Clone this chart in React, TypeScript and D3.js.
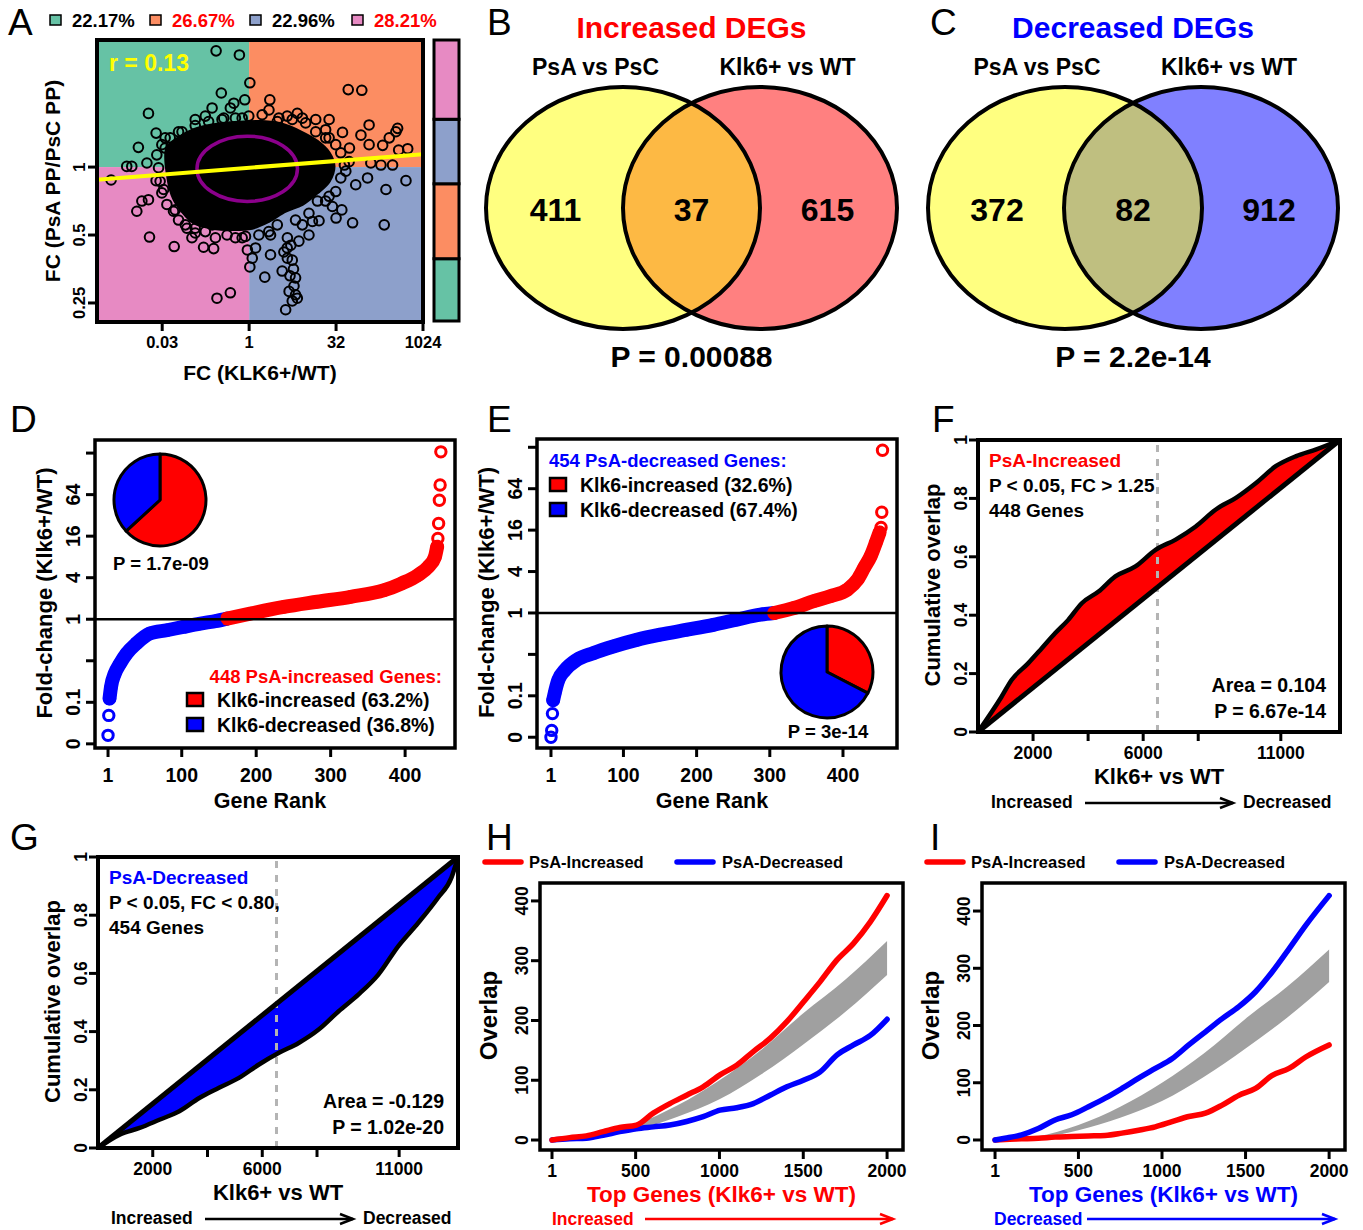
import { useEffect, useRef } from 'react';
import * as d3 from 'd3';

const W = 1363;
const H = 1230;
const FONT = '"Liberation Sans", Arial, Helvetica, sans-serif';
const RED = '#ff0000';
const BLUE = '#0000ff';

// ---------- Panel A: quadrant shares and scatter (log2 fold-changes)
const quadLabels = ['22.17%', '26.67%', '22.96%', '28.21%'];
const quadShares = [22.17, 26.67, 22.96, 28.21];
const quadColors = ['#66c2a5', '#fc8d62', '#8da0cb', '#e78ac3'];
const quadTextColors = ['#000000', RED, '#000000', RED];
const corrLabel = 'r = 0.13';
const aLog2X = [
  -1.9, -0.56, 0.04, -1.6, -5.79, -0.25, -0.88, -1.08, -2.13, 5.7, 6.48, 1.19, 1.14, -3.1, -1.46, -6.37, -5.35, -7.94,
  -7.04, -6.75, -5.88, 2.77, 3.06, 3.83, 4.6, 4.4, 5.37, 6.43, 8.54, 8.06, 6.9, 7.68, 9.12, 8.6, 7.0, 7.58, 8.25, 9.02,
  7.87, 6.81, 5.33, 5.95, 7.77, 3.93, 4.79, 3.64, 4.02, -6.46, -6.17, -5.79, -5.73, -4.31, -2.62, -2.04, -1.85, -1.08,
  2.1, 0.9, 0.04, 0.18, 1.23, 0.37, 2.67, 2.58, 2.67, 2.2, 3.44, 2.86, 2.19, 2.48, 1.9, 2.2, 2.3, 2.77, 2.48, -0.4, -0.1,
  -3.29, -3.58, -4.25, -5.35, -5.02, -4.83, -4.06, 1.62, 2.19, -0.4, -2.52, 5.77, 5.48, 6.13, 4.6, 5.0, 3.06, 1.23, 4.6,
  3.64, -3.1, -2.13, -4.83, 6.9, 8.44, 2.35, 2.55, 2.4, 2.0,
  // genes along the rim of the dense cloud
  -5.02, -5.31, -5.21, -5.12, -4.92, -4.73, -4.35, -4.06, -3.67, -3.1, -2.52, -1.94, -1.27, -0.79, -0.21, 0.56, 1.13,
  1.62, 2.67, 3.44, 4.4, 4.98, 5.27, 5.56, 5.75, 5.27, 4.98, 4.4, 3.83, 3.25, 2.48, 1.71, 0.75, -0.02, -0.79, -1.56,
  -2.33, -3.1, -3.86, -4.54
];
const aLog2Y = [
  1.71, 1.65, 1.24, 1.09, 0.79, 0.99, 0.94, 0.87, 0.87, 1.14, 1.13, 0.99, 0.84, 0.7, 0.72, 0.29, 0.5, -0.19,
  0.01, 0.01, 0.06, 0.79, 0.72, 0.7, 0.7, 0.55, 0.51, 0.47, 0.57, 0.43, 0.33, 0.32, 0.27, 0.25, 0.06, 0.03, 0.03, -0.2,
  -0.33, -0.16, -0.63, -0.82, -0.85, -0.5, -0.58, -0.8, -0.79, -0.65, -0.5, -0.48, -1.03, -1.17, -1.18, -1.2, -1.93, -1.85,
  -2.1, -1.62, -1.47, -1.34, -1.29, -1.19, -1.63, -1.75, -1.88, -1.34, -1.0, -1.09, -1.19, -1.37, -1.53, -1.04, -1.83,
  -1.93, -1.97, -1.04, -1.22, -1.04, -0.9, -0.63, -0.2, -0.38, 0.43, 0.52, 0.67, 0.75, 0.72, 0.75, 0.28, 0.03, -0.26,
  -0.43, -0.75, -0.85, -1.0, 0.43, 0.33, -0.9, -0.85, 0.28, 0.62, 0.52, -1.6, -1.5, -1.15, -1.25,
  0.33, 0.18, -0.01, -0.21, -0.33, -0.55, -0.65, -0.78, -0.85, -0.97, -0.95, -1.04, -1.0, -1.04, -1.02, -1.0, -0.95,
  -0.85, -0.78, -0.68, -0.5, -0.36, -0.16, -0.06, 0.08, 0.21, 0.33, 0.43, 0.52, 0.65, 0.7, 0.72, 0.77, 0.75, 0.72, 0.7,
  0.67, 0.61, 0.52, 0.43
];
// outline of the saturated core of the cloud
const coreLog2X = [
  -4.73, -4.06, -3.19, -2.13, -0.6, 0.75, 1.9, 2.96, 3.92, 4.6, 4.88, 4.6, 3.92, 3.06, 2.1, 1.13, 0.18, -0.98, -2.13,
  -3.19, -3.86, -4.35, -4.67
];
const coreLog2Y = [
  0.28, 0.43, 0.55, 0.62, 0.66, 0.67, 0.63, 0.52, 0.38, 0.21, 0.01, -0.21, -0.38, -0.55, -0.65, -0.8, -0.9, -0.92, -0.9,
  -0.82, -0.65, -0.46, -0.16
];
const contourCenter = [-0.11, -0.025];
const contourRadius = [2.89, 0.48];
const fitIntercept = -0.01;
const fitSlope = 0.02;
const aXTicks = [-5, 0, 5, 10];
const aXTickLabels = ['0.03', '1', '32', '1024'];
const aYTicks = [0, -1, -2];
const aYTickLabels = ['1', '0.5', '0.25'];

// ---------- Panels B, C: Venn counts [left only, both, right only]
const vennSets = ['PsA vs PsC', 'Klk6+ vs WT'];
const upCounts = [411, 37, 615];
const downCounts = [372, 82, 912];

// ---------- Panels D, E: ranked fold-change (log2)
const rankYTicks = [8, 6, 4, 2, 0, -2, -4, -6];
const rankYTickLabels = ['', '64', '16', '4', '1', '', '0.1', '0'];
const rankXTicks = [1, 100, 200, 300, 400];
const dBandRank = [3, 5, 10, 17, 26, 39, 57, 80, 102, 125, 147, 161, 192, 237, 282, 327, 372, 395, 417, 431, 440, 443];
const dBandLog2 = [
  -3.82, -3.26, -2.62, -2.14, -1.65, -1.17, -0.69, -0.53, -0.37, -0.21, -0.08, 0.03, 0.27, 0.59, 0.84, 1.08, 1.4, 1.72,
  2.12, 2.52, 3.0, 3.49
];
const dTailRank = [1, 2, 444, 445, 446, 447, 448];
const dTailLog2 = [-5.59, -4.63, 3.89, 4.61, 5.73, 6.46, 8.06];
const dPie = [63.2, 36.8];
const eBandRank = [4, 6, 11, 20, 36, 59, 86, 118, 150, 187, 223, 255, 287, 306, 333, 360, 383, 406, 420, 429, 438, 445, 450];
const eBandLog2 = [
  -4.21, -3.89, -3.24, -2.76, -2.27, -1.94, -1.62, -1.3, -1.05, -0.81, -0.57, -0.32, -0.08, 0.0, 0.24, 0.57, 0.81, 1.13,
  1.62, 2.19, 2.76, 3.4, 3.89
];
const eTailRank = [1, 2, 3, 452, 453, 454];
const eTailLog2 = [-6.0, -5.67, -4.86, 4.13, 4.86, 7.86];
const ePie = [32.6, 67.4];

// ---------- Panels F, G: cumulative overlap along Klk6+ vs WT ranking
const totalGenes = 13150;
const splitRank = 6520;
const cumXTicks = [2000, 4000, 6000, 8000, 11000];
const cumXTickLabels = ['2000', '', '6000', '', '11000'];
const cumYTicks = [0, 0.2, 0.4, 0.6, 0.8, 1];
const fRank = [0, 850, 1220, 1820, 2310, 2800, 3280, 3770, 4380, 4990, 5720, 6450, 7180, 7910, 8640, 9370, 10100, 10830, 11560, 12290, 13150];
const fOverlap = [0, 0.12, 0.178, 0.235, 0.286, 0.338, 0.384, 0.441, 0.481, 0.533, 0.567, 0.624, 0.659, 0.704, 0.762, 0.802, 0.853, 0.911, 0.945, 0.968, 1.0];
const gRank = [0, 790, 1520, 2240, 2970, 3700, 4420, 5150, 5880, 6610, 7330, 8060, 8790, 9520, 10240, 10970, 11700, 12420, 12910, 13150];
const gOverlap = [0, 0.046, 0.069, 0.097, 0.126, 0.172, 0.207, 0.241, 0.287, 0.327, 0.361, 0.407, 0.47, 0.528, 0.596, 0.694, 0.774, 0.86, 0.929, 1.0];

// ---------- Panels H, I: overlap among top genes
const overlapXTicks = [1, 500, 1000, 1500, 2000];
const overlapYTicks = [0, 100, 200, 300, 400];
const hTop = [1, 106, 206, 306, 405, 505, 605, 704, 804, 903, 1003, 1103, 1202, 1302, 1402, 1501, 1601, 1700, 1800, 1900, 2000];
const hIncreased = [0, 4, 7, 14, 21, 25, 45, 61, 75, 89, 109, 125, 148, 170, 198, 231, 265, 301, 329, 365, 409];
const hDecreased = [0, 2, 3, 8, 14, 19, 22, 25, 31, 39, 50, 54, 61, 75, 89, 100, 114, 142, 159, 175, 202];
const iTop = [1, 60, 160, 260, 360, 460, 560, 660, 760, 860, 960, 1060, 1160, 1260, 1360, 1460, 1560, 1660, 1760, 1860, 2000];
const iIncreased = [0, 1, 2, 3, 5, 6, 7, 8, 12, 17, 23, 32, 41, 47, 61, 78, 90, 113, 125, 145, 166];
const iDecreased = [0, 3, 9, 20, 35, 44, 58, 73, 90, 108, 125, 142, 166, 189, 212, 233, 259, 294, 334, 375, 427];
const nullTop = [1, 250, 500, 750, 1000, 1250, 1500, 1750, 2000];
const nullLow = [0, 3, 17, 39, 68, 110, 160, 214, 276];
const nullHigh = [0, 6, 26, 58, 100, 151, 212, 268, 333];

type Sel = d3.Selection<any, unknown, null, undefined>;

const txt = (
  g: Sel,
  x: number,
  y: number,
  s: string,
  size: number,
  opt: { anchor?: string; fill?: string; weight?: string; rotate?: boolean } = {}
) =>
  g
    .append('text')
    .attr('transform', `translate(${x},${y})${opt.rotate ? ' rotate(-90)' : ''}`)
    .attr('text-anchor', opt.anchor || 'start')
    .attr('font-size', size)
    .attr('font-weight', opt.weight || 'bold')
    .attr('fill', opt.fill || '#000')
    .text(s);

const frame = (g: Sel, x0: number, y0: number, x1: number, y1: number, sw: number) =>
  g
    .append('rect')
    .attr('x', x0)
    .attr('y', y0)
    .attr('width', x1 - x0)
    .attr('height', y1 - y0)
    .attr('fill', 'none')
    .attr('stroke', '#000')
    .attr('stroke-width', sw);

const bottomTicks = (g: Sel, scale: any, values: number[], labels: string[], yTop: number, labelY: number, size: number) => {
  values.forEach((v, i) => {
    const px = scale(v);
    g.append('line').attr('x1', px).attr('x2', px).attr('y1', yTop).attr('y2', yTop + 9).attr('stroke', '#000').attr('stroke-width', 3);
    if (labels[i]) txt(g, px, labelY, labels[i], size, { anchor: 'middle' });
  });
};

const leftTicks = (g: Sel, scale: any, values: number[], labels: string[], xRight: number, labelX: number, size: number) => {
  values.forEach((v, i) => {
    const py = scale(v);
    g.append('line').attr('x1', xRight - 9).attr('x2', xRight).attr('y1', py).attr('y2', py).attr('stroke', '#000').attr('stroke-width', 3);
    if (labels[i]) txt(g, labelX, py, labels[i], size, { anchor: 'middle', rotate: true });
  });
};

const arrow = (g: Sel, x1: number, x2: number, y: number, color: string) => {
  g.append('line').attr('x1', x1).attr('x2', x2).attr('y1', y).attr('y2', y).attr('stroke', color).attr('stroke-width', 2.5);
  g.append('path')
    .attr('d', `M${x2 - 13},${y - 5}L${x2},${y}L${x2 - 13},${y + 5}`)
    .attr('fill', 'none')
    .attr('stroke', color)
    .attr('stroke-width', 2.5);
};

function drawA(svg: Sel) {
  const g = svg.append('g');
  const x = d3.scaleLinear().domain([-8.75, 10]).range([97, 423]);
  const y = d3.scaleLinear().domain([-2.28, 1.87]).range([322, 40]);
  const [x0, x1] = x.domain();
  const [y0, y1] = y.domain();

  // Quadrant backgrounds: green TL, orange TR, blue BR, pink BL
  const quads = [
    [x0, 0, 0, y1],
    [0, x1, 0, y1],
    [0, x1, y0, 0],
    [x0, 0, y0, 0]
  ];
  quads.forEach((q, i) => {
    g.append('rect')
      .attr('x', x(q[0]))
      .attr('y', y(q[3]))
      .attr('width', x(q[1]) - x(q[0]))
      .attr('height', y(q[2]) - y(q[3]))
      .attr('fill', quadColors[i]);
  });

  g.append('clipPath').attr('id', 'clipA').append('rect').attr('x', 97).attr('y', 40).attr('width', 326).attr('height', 282);
  const pg = g.append('g').attr('clip-path', 'url(#clipA)');

  // Dense core of the cloud
  const core = d3
    .line<number>()
    .x((i) => x(coreLog2X[i]))
    .y((i) => y(coreLog2Y[i]))
    .curve(d3.curveCatmullRomClosed);
  pg.append('path')
    .attr('d', core(d3.range(coreLog2X.length)))
    .attr('fill', '#000')
    .attr('stroke', '#000')
    .attr('stroke-width', 3)
    .attr('stroke-linejoin', 'round');

  pg.selectAll('circle.pt')
    .data(d3.range(aLog2X.length))
    .join('circle')
    .attr('class', 'pt')
    .attr('cx', (i) => x(aLog2X[i]))
    .attr('cy', (i) => y(aLog2Y[i]))
    .attr('r', 4.8)
    .attr('fill', 'none')
    .attr('stroke', '#000')
    .attr('stroke-width', 2);

  // Density contour
  pg.append('ellipse')
    .attr('cx', x(contourCenter[0]))
    .attr('cy', y(contourCenter[1]))
    .attr('rx', x(contourCenter[0] + contourRadius[0]) - x(contourCenter[0]))
    .attr('ry', y(contourCenter[1]) - y(contourCenter[1] + contourRadius[1]))
    .attr('fill', 'none')
    .attr('stroke', '#8b008b')
    .attr('stroke-width', 3.5);

  // Regression line
  pg.append('line')
    .attr('x1', x(x0))
    .attr('y1', y(fitIntercept + fitSlope * x0))
    .attr('x2', x(x1))
    .attr('y2', y(fitIntercept + fitSlope * x1))
    .attr('stroke', '#ffff00')
    .attr('stroke-width', 4);

  txt(g, 109, 71, corrLabel, 23, { fill: '#ffff00' });
  frame(g, 97, 40, 423, 322, 4);

  bottomTicks(g, x, aXTicks, aXTickLabels, 322, 348, 16.5);
  leftTicks(g, y, aYTicks, aYTickLabels, 97, 85, 16.5);
  txt(g, 260, 380, 'FC (KLK6+/WT)', 21, { anchor: 'middle' });
  txt(g, 60, 181, 'FC (PsA PP/PsC PP)', 21, { anchor: 'middle', rotate: true });

  // Legend row
  const legX = [50, 150, 250, 352];
  quadLabels.forEach((l, i) => {
    g.append('rect')
      .attr('x', legX[i])
      .attr('y', 15)
      .attr('width', 11)
      .attr('height', 10)
      .attr('fill', quadColors[i])
      .attr('stroke', '#000')
      .attr('stroke-width', 1.5);
    txt(g, legX[i] + 22, 27, l, 18.5, { fill: quadTextColors[i] });
  });

  // Stacked share bar
  const s = d3.scaleLinear().domain([0, d3.sum(quadShares)]).range([321, 40]);
  let acc = 0;
  quadShares.forEach((v, i) => {
    g.append('rect')
      .attr('x', 434)
      .attr('y', s(acc + v))
      .attr('width', 25)
      .attr('height', s(acc) - s(acc + v))
      .attr('fill', quadColors[i])
      .attr('stroke', '#000')
      .attr('stroke-width', 3);
    acc += v;
  });
}

function drawVenn(
  svg: Sel,
  id: string,
  cxL: number,
  cxR: number,
  title: string,
  titleColor: string,
  counts: number[],
  rightColor: string,
  overlapColor: string,
  pText: string
) {
  const g = svg.append('g');
  const cy = 208;
  const rx = 137;
  const ry = 121;
  const mid = (cxL + cxR) / 2;
  g.append('clipPath').attr('id', id).append('ellipse').attr('cx', cxL).attr('cy', cy).attr('rx', rx).attr('ry', ry);
  g.append('ellipse').attr('cx', cxL).attr('cy', cy).attr('rx', rx).attr('ry', ry).attr('fill', '#ffff80');
  g.append('ellipse').attr('cx', cxR).attr('cy', cy).attr('rx', rx).attr('ry', ry).attr('fill', rightColor);
  g.append('ellipse')
    .attr('cx', cxR)
    .attr('cy', cy)
    .attr('rx', rx)
    .attr('ry', ry)
    .attr('fill', overlapColor)
    .attr('clip-path', `url(#${id})`);
  [cxL, cxR].forEach((cx) =>
    g.append('ellipse').attr('cx', cx).attr('cy', cy).attr('rx', rx).attr('ry', ry).attr('fill', 'none').attr('stroke', '#000').attr('stroke-width', 4)
  );
  txt(g, mid, 38, title, 30, { anchor: 'middle', fill: titleColor });
  txt(g, mid - 96, 75, vennSets[0], 23, { anchor: 'middle' });
  txt(g, mid + 96, 75, vennSets[1], 23, { anchor: 'middle' });
  const cx = [mid - 136, mid, mid + 136];
  counts.forEach((c, i) => txt(g, cx[i], 221, String(c), 32, { anchor: 'middle' }));
  txt(g, mid, 367, pText, 30, { anchor: 'middle' });
}

type RankCfg = {
  box: [number, number, number, number];
  xDomain: [number, number];
  yDomain: [number, number];
  bandRank: number[];
  bandLog2: number[];
  tailRank: number[];
  tailLog2: number[];
  pie: number[];
  pieC: [number, number];
  pLabel: string;
  pY: number;
  ylabelX: number;
  yTickX: number;
  legend: { title: string; color: string; anchor: string; tx: number; ty: number; sx: number; sy: number; lx: number };
};

function drawRank(svg: Sel, c: RankCfg) {
  const g = svg.append('g');
  const [bx0, by0, bx1, by1] = c.box;
  const x = d3.scaleLinear().domain(c.xDomain).range([bx0, bx1]);
  const y = d3.scaleLinear().domain(c.yDomain).range([by1, by0]);
  const col = (v: number) => (v < 0 ? BLUE : RED);

  const idx = d3.range(c.bandRank.length);
  const firstUp = idx.findIndex((i) => c.bandLog2[i] >= 0);
  const line = d3
    .line<number>()
    .x((i) => x(c.bandRank[i]))
    .y((i) => y(c.bandLog2[i]))
    .curve(d3.curveMonotoneX);
  g.append('path')
    .attr('d', line(idx.slice(0, firstUp + 1)))
    .attr('fill', 'none')
    .attr('stroke', BLUE)
    .attr('stroke-width', 14)
    .attr('stroke-linecap', 'round');
  g.append('path')
    .attr('d', line(idx.slice(firstUp)))
    .attr('fill', 'none')
    .attr('stroke', RED)
    .attr('stroke-width', 14)
    .attr('stroke-linecap', 'round');

  const pts = [
    ...idx.map((i) => [c.bandRank[i], c.bandLog2[i]]),
    ...c.tailRank.map((r, i) => [r, c.tailLog2[i]])
  ];
  g.selectAll('circle.r')
    .data(pts)
    .join('circle')
    .attr('class', 'r')
    .attr('cx', (d) => x(d[0]))
    .attr('cy', (d) => y(d[1]))
    .attr('r', 5.2)
    .attr('fill', 'none')
    .attr('stroke', (d) => col(d[1]))
    .attr('stroke-width', 3);

  g.append('line').attr('x1', bx0).attr('x2', bx1).attr('y1', y(0)).attr('y2', y(0)).attr('stroke', '#000').attr('stroke-width', 2.5);

  // Pie of increased / decreased share
  const arcs = d3.pie<number>().sort(null)(c.pie);
  const arc = d3.arc<d3.PieArcDatum<number>>().innerRadius(0).outerRadius(46);
  g.append('g')
    .attr('transform', `translate(${c.pieC[0]},${c.pieC[1]})`)
    .selectAll('path')
    .data(arcs)
    .join('path')
    .attr('d', arc)
    .attr('fill', (_, i) => (i === 0 ? RED : BLUE))
    .attr('stroke', '#000')
    .attr('stroke-width', 3)
    .attr('stroke-linejoin', 'round');
  txt(g, c.pieC[0] + 1, c.pY, c.pLabel, 18.5, { anchor: 'middle' });

  frame(g, bx0, by0, bx1, by1, 3.5);
  bottomTicks(g, x, rankXTicks, rankXTicks.map(String), by1, by1 + 34, 19.5);
  leftTicks(g, y, rankYTicks, rankYTickLabels, bx0, c.yTickX, 19.5);
  txt(g, (bx0 + bx1) / 2 - 5, by1 + 60, 'Gene Rank', 21.5, { anchor: 'middle' });
  txt(g, c.ylabelX, (by0 + by1) / 2 - 1, 'Fold-change (Klk6+/WT)', 22, { anchor: 'middle', rotate: true });

  const L = c.legend;
  txt(g, L.tx, L.ty, L.title, 18.5, { anchor: L.anchor, fill: L.color });
  const names = [`Klk6-increased (${c.pie[0]}%)`, `Klk6-decreased (${c.pie[1]}%)`];
  names.forEach((n, i) => {
    g.append('rect')
      .attr('x', L.sx)
      .attr('y', L.sy + i * 25)
      .attr('width', 16)
      .attr('height', 13)
      .attr('fill', i === 0 ? RED : BLUE)
      .attr('stroke', '#000')
      .attr('stroke-width', 2.5);
    txt(g, L.lx, L.sy + 14 + i * 25, n, 19.5);
  });
}

type CumCfg = {
  box: [number, number, number, number];
  rank: number[];
  overlap: number[];
  fill: string;
  title: string;
  lines: string[];
  stats: string[];
};

function drawCum(svg: Sel, c: CumCfg) {
  const g = svg.append('g');
  const [bx0, by0, bx1, by1] = c.box;
  const x = d3.scaleLinear().domain([0, totalGenes]).range([bx0, bx1]);
  const y = d3.scaleLinear().domain([0, 1]).range([by1, by0]);

  const pts: [number, number][] = c.rank.map((r, i) => [r, c.overlap[i]]);
  // area between the observed curve and the diagonal (uniform expectation)
  const area = d3
    .area<[number, number]>()
    .x((d) => x(d[0]))
    .y0((d) => y(d[0] / totalGenes))
    .y1((d) => y(d[1]))
    .curve(d3.curveMonotoneX);
  g.append('path').attr('d', area(pts)).attr('fill', c.fill);

  g.append('line')
    .attr('x1', x(splitRank))
    .attr('x2', x(splitRank))
    .attr('y1', y(0))
    .attr('y2', y(1))
    .attr('stroke', '#b4b4b4')
    .attr('stroke-width', 3)
    .attr('stroke-dasharray', '7,7');

  const line = d3
    .line<[number, number]>()
    .x((d) => x(d[0]))
    .y((d) => y(d[1]))
    .curve(d3.curveMonotoneX);
  g.append('path')
    .attr('d', line([[0, 0], [totalGenes, 1]]))
    .attr('stroke', '#000')
    .attr('stroke-width', 5)
    .attr('fill', 'none');
  g.append('path')
    .attr('d', line(pts))
    .attr('stroke', '#000')
    .attr('stroke-width', 4.5)
    .attr('stroke-linejoin', 'round')
    .attr('fill', 'none');

  frame(g, bx0, by0, bx1, by1, 4);
  bottomTicks(g, x, cumXTicks, cumXTickLabels, by1, by1 + 27, 17.5);
  leftTicks(g, y, cumYTicks, cumYTicks.map(String), bx0, bx0 - 11, 17.5);
  txt(g, (bx0 + bx1) / 2, by1 + 52, 'Klk6+ vs WT', 22, { anchor: 'middle' });
  txt(g, bx0 - 38, (by0 + by1) / 2 - 1, 'Cumulative overlap', 22, { anchor: 'middle', rotate: true });
  txt(g, bx0 + 13, by1 + 76, 'Increased', 17.5);
  arrow(g, bx0 + 107, bx0 + 255, by1 + 71, '#000');
  txt(g, bx0 + 265, by1 + 76, 'Decreased', 17.5);

  txt(g, bx0 + 11, by0 + 27, c.title, 19, { fill: c.fill });
  c.lines.forEach((l, i) => txt(g, bx0 + 11, by0 + 52 + i * 25, l, 19));
  c.stats.forEach((l, i) => txt(g, bx1 - 14, by1 - 40 + i * 26, l, 19.5, { anchor: 'end' }));
}

type OvCfg = {
  box: [number, number, number, number];
  xDomain: [number, number];
  yDomain: [number, number];
  top: number[];
  increased: number[];
  decreased: number[];
  axisColor: string;
  dirLabel: string;
  blueOnTop: boolean;
};

function drawOverlap(svg: Sel, c: OvCfg) {
  const g = svg.append('g');
  const [bx0, by0, bx1, by1] = c.box;
  const x = d3.scaleLinear().domain(c.xDomain).range([bx0, bx1]);
  const y = d3.scaleLinear().domain(c.yDomain).range([by1, by0]);

  const band = d3
    .area<number>()
    .x((i) => x(nullTop[i]))
    .y0((i) => y(nullLow[i]))
    .y1((i) => y(nullHigh[i]))
    .curve(d3.curveMonotoneX);
  g.append('path').attr('d', band(d3.range(nullTop.length))).attr('fill', '#a0a0a0');

  const mk = (vals: number[]) =>
    d3
      .line<number>()
      .x((i) => x(c.top[i]))
      .y((i) => y(vals[i]))
      .curve(d3.curveMonotoneX)(d3.range(c.top.length));
  const series = [
    { v: c.increased, col: RED },
    { v: c.decreased, col: BLUE }
  ];
  const order = c.blueOnTop ? series : [series[1], series[0]];
  order.forEach((s) =>
    g.append('path')
      .attr('d', mk(s.v))
      .attr('fill', 'none')
      .attr('stroke', s.col)
      .attr('stroke-width', 5.5)
      .attr('stroke-linecap', 'round')
      .attr('stroke-linejoin', 'round')
  );

  frame(g, bx0, by0, bx1, by1, 3.5);
  bottomTicks(g, x, overlapXTicks, overlapXTicks.map(String), by1, by1 + 27, 17.5);
  leftTicks(g, y, overlapYTicks, overlapYTicks.map(String), bx0, bx0 - 12, 17.5);
  txt(g, (bx0 + bx1) / 2, by1 + 52, 'Top Genes (Klk6+ vs WT)', 22.5, { anchor: 'middle', fill: c.axisColor });
  txt(g, bx0 - 43, (by0 + by1) / 2 - 1, 'Overlap', 24, { anchor: 'middle', rotate: true });
  txt(g, bx0 + 12, by1 + 75, c.dirLabel, 17.5, { fill: c.axisColor });
  arrow(g, bx0 + 105, bx0 + 353, by1 + 69, c.axisColor);

  // Legend
  const legY = by0 - 21;
  [
    { col: RED, x: bx0 - 55, name: 'PsA-Increased', tx: bx0 - 11 },
    { col: BLUE, x: bx0 + 137, name: 'PsA-Decreased', tx: bx0 + 182 }
  ].forEach((l) => {
    g.append('line')
      .attr('x1', l.x)
      .attr('x2', l.x + 36)
      .attr('y1', legY)
      .attr('y2', legY)
      .attr('stroke', l.col)
      .attr('stroke-width', 5.5)
      .attr('stroke-linecap', 'round');
    txt(g, l.tx, legY + 6, l.name, 16.5);
  });
}

export default function App() {
  const ref = useRef<SVGSVGElement | null>(null);

  useEffect(() => {
    if (!ref.current) return;
    const svg = d3.select(ref.current) as unknown as Sel;
    svg.selectAll('*').remove();
    svg.append('rect').attr('width', W).attr('height', H).attr('fill', '#fff');

    drawA(svg);
    drawVenn(svg, 'clipB', 623, 760, 'Increased DEGs', RED, upCounts, '#ff8080', '#fdb944', 'P = 0.00088');
    drawVenn(svg, 'clipC', 1065, 1201, 'Decreased DEGs', BLUE, downCounts, '#8080ff', '#bfbf80', 'P = 2.2e-14');

    drawRank(svg, {
      box: [95, 440, 455, 748],
      xDomain: [-16.5, 467],
      yDomain: [-6.2, 8.63],
      bandRank: dBandRank,
      bandLog2: dBandLog2,
      tailRank: dTailRank,
      tailLog2: dTailLog2,
      pie: dPie,
      pieC: [160, 500],
      pLabel: 'P = 1.7e-09',
      pY: 570,
      ylabelX: 52,
      yTickX: 80,
      legend: { title: '448 PsA-increased Genes:', color: RED, anchor: 'end', tx: 442, ty: 683, sx: 187, sy: 693, lx: 217 }
    });
    drawRank(svg, {
      box: [537, 439, 897, 748],
      xDomain: [-18.1, 473.8],
      yDomain: [-6.52, 8.4],
      bandRank: eBandRank,
      bandLog2: eBandLog2,
      tailRank: eTailRank,
      tailLog2: eTailLog2,
      pie: ePie,
      pieC: [827, 672],
      pLabel: 'P = 3e-14',
      pY: 738,
      ylabelX: 494,
      yTickX: 522,
      legend: { title: '454 PsA-decreased Genes:', color: BLUE, anchor: 'start', tx: 549, ty: 467, sx: 550, sy: 478, lx: 580 }
    });

    drawCum(svg, {
      box: [978, 440, 1340, 732],
      rank: fRank,
      overlap: fOverlap,
      fill: RED,
      title: 'PsA-Increased',
      lines: ['P < 0.05, FC > 1.25', '448 Genes'],
      stats: ['Area = 0.104', 'P = 6.67e-14']
    });
    drawCum(svg, {
      box: [98, 857, 458, 1148],
      rank: gRank,
      overlap: gOverlap,
      fill: BLUE,
      title: 'PsA-Decreased',
      lines: ['P < 0.05, FC < 0.80,', '454 Genes'],
      stats: ['Area = -0.129', 'P = 1.02e-20']
    });

    drawOverlap(svg, {
      box: [540, 883, 903, 1150],
      xDomain: [-70.6, 2095],
      yDomain: [-16.7, 430],
      top: hTop,
      increased: hIncreased,
      decreased: hDecreased,
      axisColor: RED,
      dirLabel: 'Increased',
      blueOnTop: false
    });
    drawOverlap(svg, {
      box: [982, 883, 1345, 1150],
      xDomain: [-77, 2095],
      yDomain: [-17.5, 449],
      top: iTop,
      increased: iIncreased,
      decreased: iDecreased,
      axisColor: BLUE,
      dirLabel: 'Decreased',
      blueOnTop: true
    });

    // Panel letters
    const letters: [string, number, number][] = [
      ['A', 8, 35],
      ['B', 487, 35],
      ['C', 930, 35],
      ['D', 10, 432],
      ['E', 487, 432],
      ['F', 932, 432],
      ['G', 10, 850],
      ['H', 486, 850],
      ['I', 930, 850]
    ];
    letters.forEach(([l, lx, ly]) => txt(svg, lx, ly, l, 37, { weight: 'normal' }));
  }, []);

  return (
    <svg
      ref={ref}
      width={W}
      height={H}
      style={{ position: 'absolute', left: 0, top: 0, fontFamily: FONT }}
    />
  );
}
